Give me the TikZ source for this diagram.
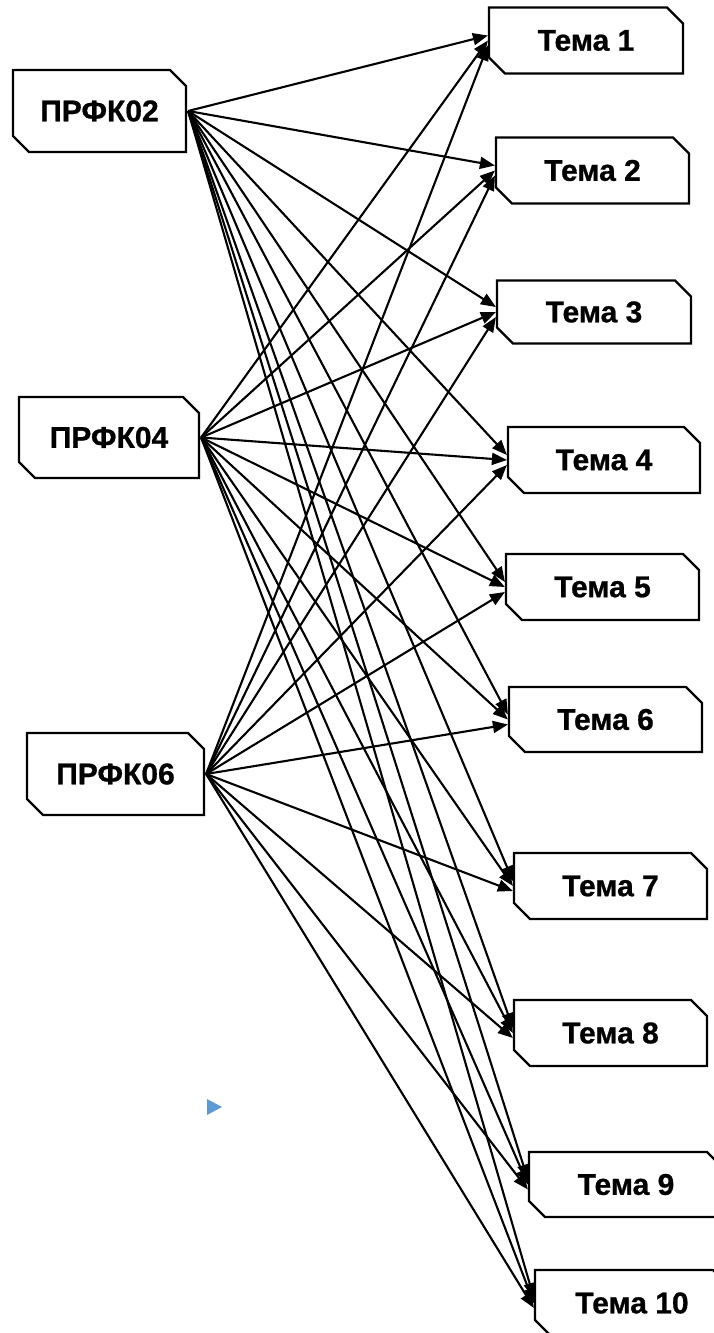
\documentclass[tikz,border=0pt]{standalone}
\usepackage{fontspec}
\setmainfont{Liberation Sans}[BoldFeatures={FakeBold=0.8}]
\usetikzlibrary{shapes.misc,arrows.meta}
\definecolor{markblue}{HTML}{5B9BD5}
\tikzset{
  box/.style={chamfered rectangle, chamfered rectangle corners={north east,south west},
    chamfered rectangle xsep=8pt, chamfered rectangle ysep=8pt,
    draw=black, line width=2.2pt, fill=white, inner sep=0pt,
    font=\fontsize{30}{33}\selectfont\bfseries},
  arr/.style={line width=2.1pt, -{Triangle[length=15pt,width=12pt]}}
}
\begin{document}
\begin{tikzpicture}[x=1pt,y=-1pt]
\useasboundingbox (0,0) rectangle (714,1333);
\node[box, minimum width=173pt, minimum height=82pt] (P02) at (99.5,111) {ПРФК02};
\node[box, minimum width=180pt, minimum height=81pt] (P04) at (109,437.5) {ПРФК04};
\node[box, minimum width=177pt, minimum height=82pt] (P06) at (115.5,774) {ПРФК06};
\node[box, minimum width=194pt, minimum height=66pt] (T1) at (586,40.5) {Тема 1};
\node[box, minimum width=193pt, minimum height=66pt] (T2) at (592.5,170.5) {Тема 2};
\node[box, minimum width=194pt, minimum height=63pt] (T3) at (594,312) {Тема 3};
\node[box, minimum width=192pt, minimum height=66pt] (T4) at (604,460) {Тема 4};
\node[box, minimum width=193pt, minimum height=66pt] (T5) at (602.5,587) {Тема 5};
\node[box, minimum width=193pt, minimum height=65pt] (T6) at (605.5,719.5) {Тема 6};
\node[box, minimum width=193pt, minimum height=66pt] (T7) at (610.5,886) {Тема 7};
\node[box, minimum width=193pt, minimum height=66pt] (T8) at (610.5,1033) {Тема 8};
\node[box, minimum width=194pt, minimum height=65pt] (T9) at (626,1184.5) {Тема 9};
\node[box, minimum width=194pt, minimum height=66pt] (T10) at (632,1303) {Тема 10};
\foreach \s/\o in {P02/5pt,P04/0pt,P06/-5pt}
  \foreach \t in {T1,T2,T3,T4,T5,T6,T7,T8,T9,T10}
    \draw[arr] ([xshift=1pt]\s.east) -- ([yshift=\o]\t.west);
\coordinate (m1) at (207,1099);
\coordinate (m2) at (207,1115);
\coordinate (m3) at (222,1107);
\fill[markblue] (m1) -- (m2) -- (m3) -- cycle;
\end{tikzpicture}
\end{document}
